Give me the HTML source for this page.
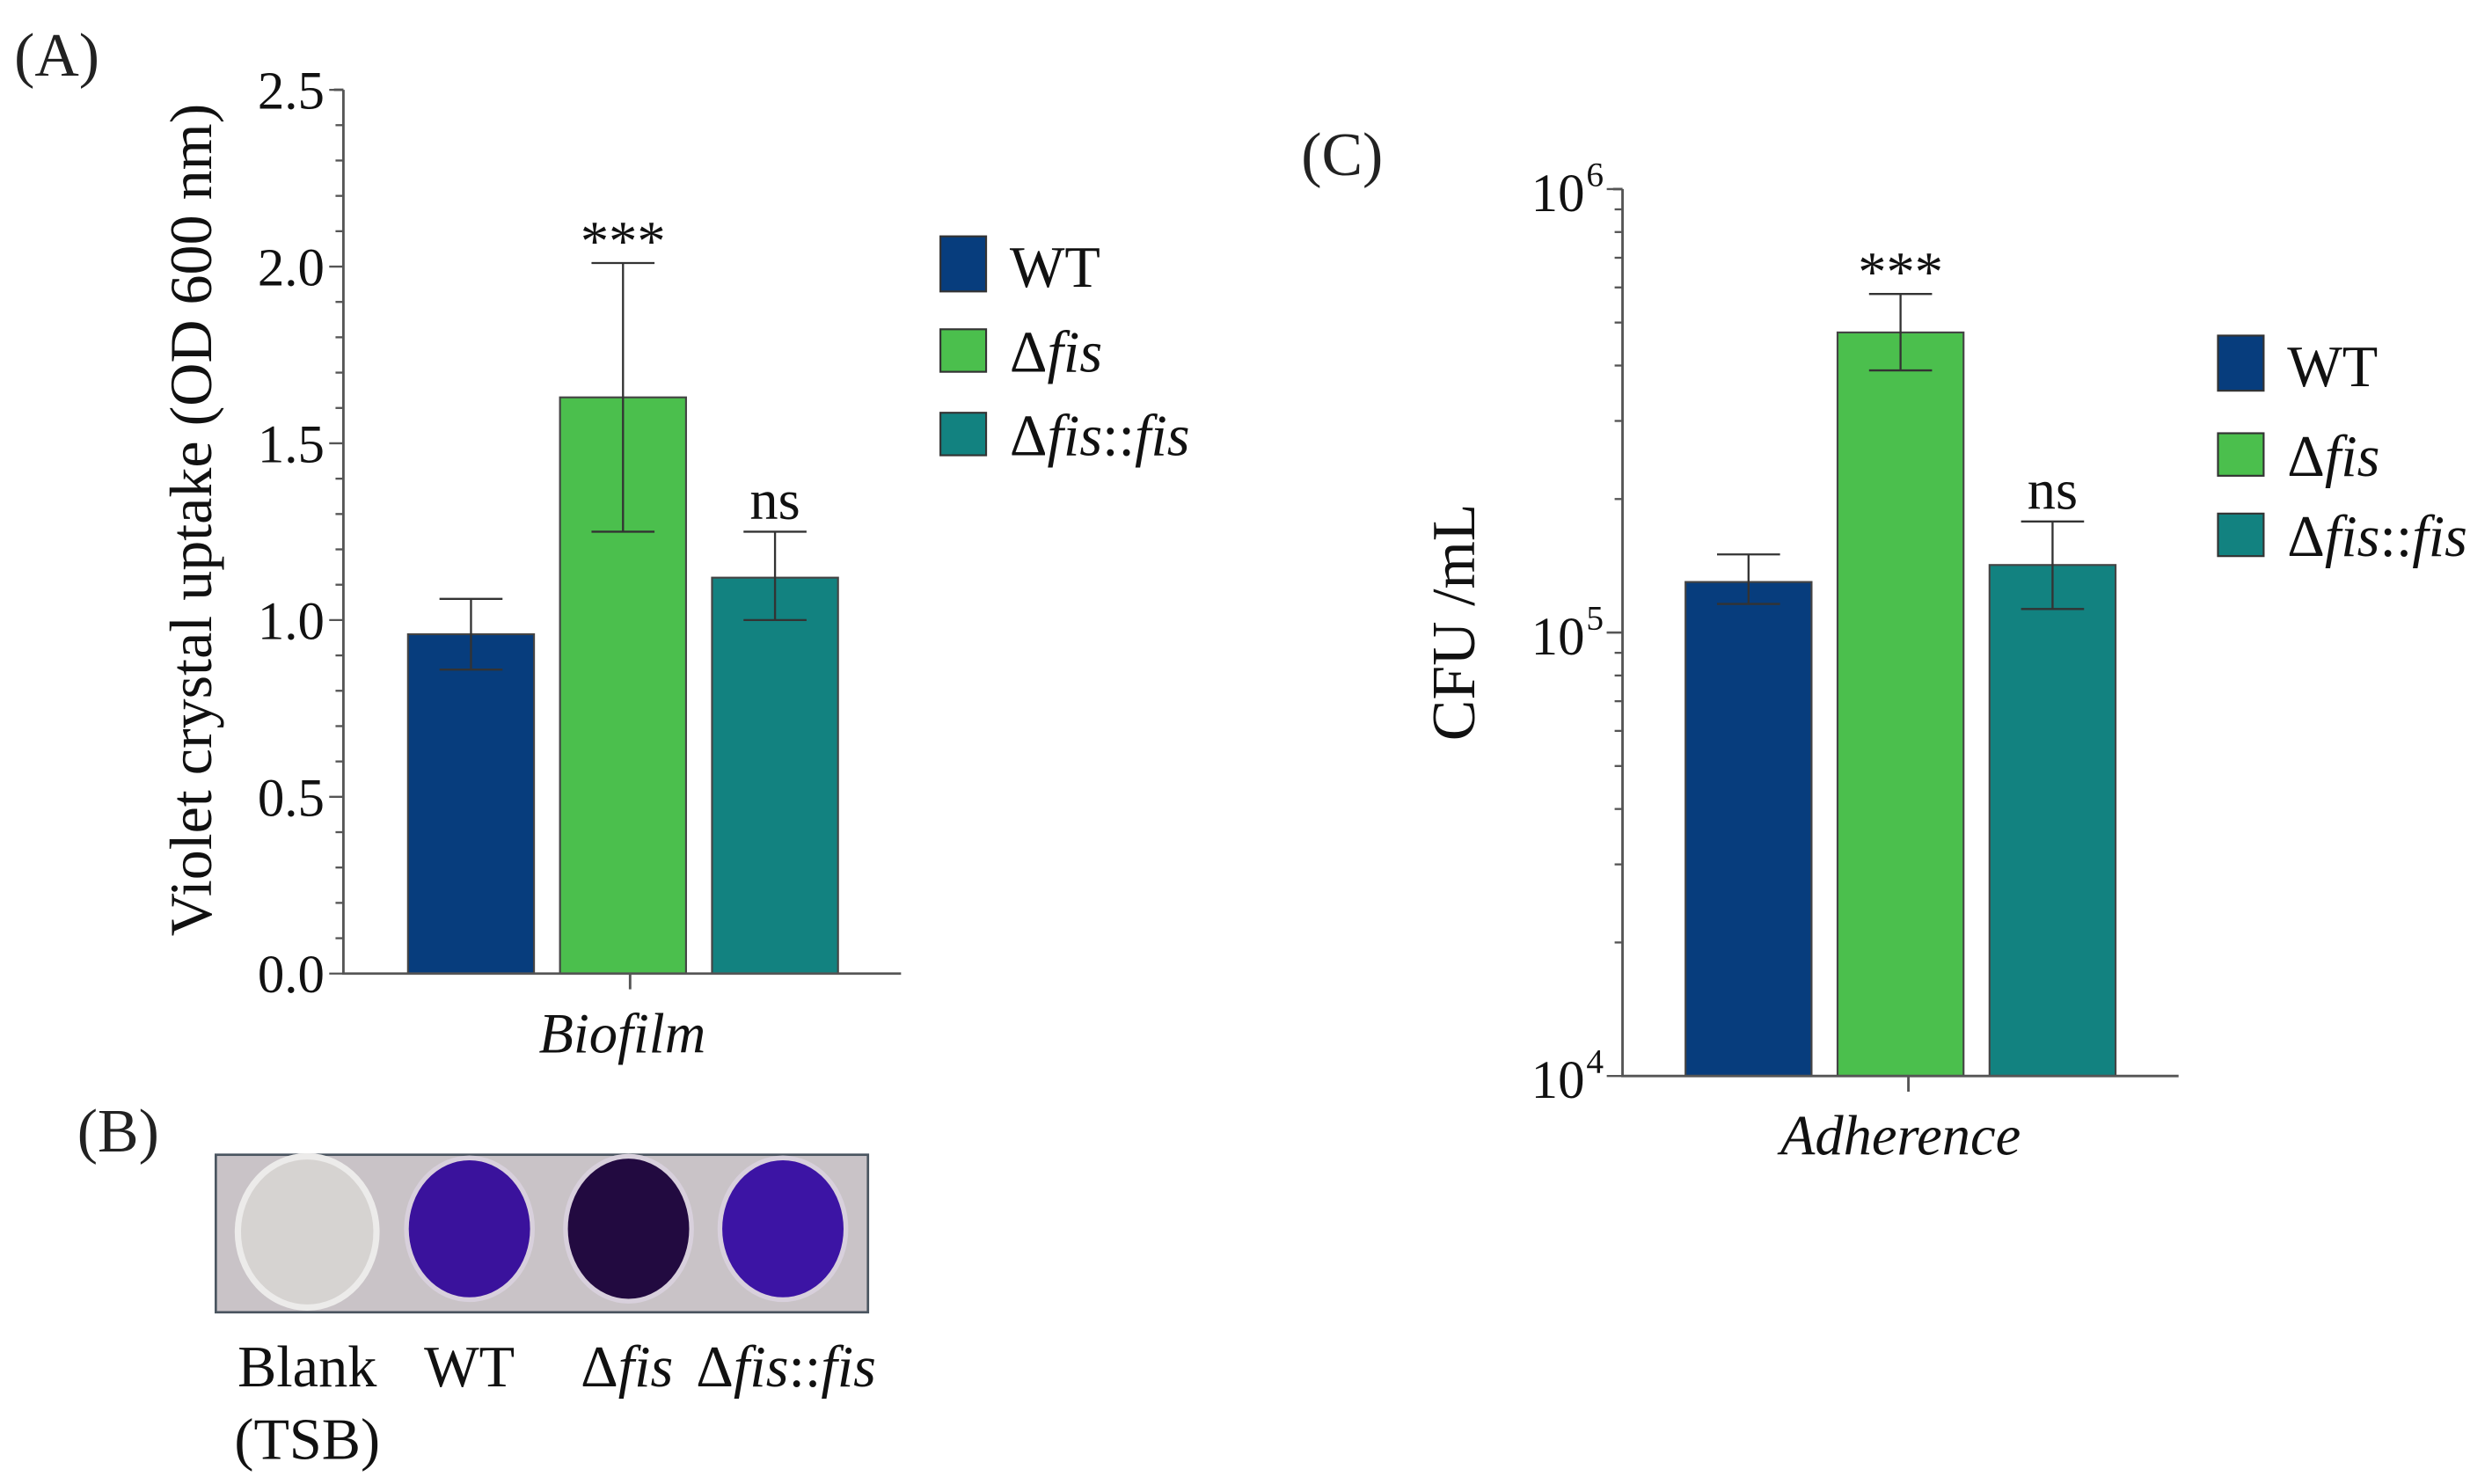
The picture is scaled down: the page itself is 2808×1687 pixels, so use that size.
<!DOCTYPE html>
<html><head><meta charset="utf-8"><style>
html,body{margin:0;padding:0;background:#fff;}
svg{display:block;font-family:"Liberation Serif",serif;}
</style></head><body>
<svg id="fig" width="2808" height="1687" viewBox="0 0 1568 942" xmlns="http://www.w3.org/2000/svg">
<text x="9" y="48" font-size="39" fill="#222">(A)</text>
<text x="826" y="111" font-size="39" fill="#222">(C)</text>
<text x="49" y="731" font-size="39" fill="#222">(B)</text>
<g id="chartA"></g>
<g id="chartC"></g>
<g id="plate">
  <rect x="137" y="733" width="414" height="100" fill="#c9c3c7" stroke="#4a5560" stroke-width="1.5"/>
  <ellipse cx="195" cy="782" rx="44" ry="48" fill="#d6d3d1" stroke="#ecebea" stroke-width="4"/>
  <ellipse cx="298" cy="780" rx="40" ry="45" fill="#3a129c" stroke="#d8d0dc" stroke-width="3"/>
  <ellipse cx="399" cy="780" rx="40" ry="46" fill="#220a40" stroke="#d8d0dc" stroke-width="3"/>
  <ellipse cx="497" cy="780" rx="40" ry="45" fill="#3c14a4" stroke="#d8d0dc" stroke-width="3"/>
  <text x="195" y="880" font-size="37" text-anchor="middle" fill="#111">Blank</text>
  <text x="195" y="926" font-size="37" text-anchor="middle" fill="#111">(TSB)</text>
  <text x="298" y="880" font-size="37" text-anchor="middle" fill="#111">WT</text>
  <text x="398" y="880" font-size="37" text-anchor="middle" fill="#111">Δ<tspan font-style="italic">fis</tspan></text>
  <text x="499" y="880" font-size="37" text-anchor="middle" fill="#111">Δ<tspan font-style="italic">fis</tspan>::<tspan font-style="italic">fis</tspan></text>
</g>
</svg>
<script>
const groups = ["WT", "Δfis", "Δfis::fis"];
const colors = ["#073d7d", "#4bbf4d", "#128280"];
const biofilmMeans = [0.96, 1.63, 1.12];
const biofilmLow = [0.86, 1.25, 1.00];
const biofilmHigh = [1.06, 2.01, 1.25];
const biofilmSig = ["", "***", "ns"];
const biofilmTicks = ["0.0", "0.5", "1.0", "1.5", "2.0", "2.5"];
const adhMeans = [1.3e5, 4.75e5, 1.42e5];
const adhLow = [1.16e5, 3.9e5, 1.13e5];
const adhHigh = [1.5e5, 5.8e5, 1.78e5];
const adhSig = ["", "***", "ns"];
const adhTickExps = [4, 5, 6];

const NS = "http://www.w3.org/2000/svg";
function mk(parent, tag, attrs, text){
  const e = document.createElementNS(NS, tag);
  for (const k in attrs) e.setAttribute(k, attrs[k]);
  if (text !== undefined) e.textContent = text;
  parent.appendChild(e);
  return e;
}
function groupLabel(parent, x, y, size, g){
  const t = mk(parent, "text", {x:x, y:y, "font-size":size, fill:"#111"});
  if (g === "WT") { t.textContent = "WT"; return t; }
  mk(t, "tspan", {}, "Δ");
  mk(t, "tspan", {"font-style":"italic"}, "fis");
  if (g === "Δfis::fis") { mk(t, "tspan", {}, "::"); mk(t, "tspan", {"font-style":"italic"}, "fis"); }
  return t;
}

function drawChart(gid, cfg){
  const g = document.getElementById(gid);
  const ax = "#555";
  for (let i = 0; i < groups.length; i++){
    const x0 = cfg.barX0 + i*cfg.barStep;
    const yt = cfg.y(cfg.means[i]);
    const r = mk(g, "rect", {x:x0, y:yt, width:cfg.barW, height:cfg.y0 - yt, fill:colors[i], stroke:"#444", "stroke-width":1.2});
    
    
    const cx = x0 + cfg.barW/2, yl = cfg.y(cfg.low[i]), yh = cfg.y(cfg.high[i]);
    const eb = mk(g, "path", {d:`M${cx},${yl}V${yh}M${cx-20},${yh}H${cx+20}M${cx-20},${yl}H${cx+20}`, stroke:"#333", "stroke-width":1.3, fill:"none"});
    
    
    if (cfg.sig[i]){
      const s = mk(g, "text", {x:cx, y:yh - (cfg.sig[i]==="ns"?8:2), "font-size":cfg.sig[i]==="ns"?36:36, "text-anchor":"middle", fill:"#111"}, cfg.sig[i]);
      
      
    }
  }
  const axes = mk(g, "path", {d:`M${cfg.x0},${cfg.yTop}V${cfg.y0}H${cfg.xEnd}M${cfg.x0-6},${cfg.yTop}H${cfg.x0}M${(cfg.x0+cfg.xEnd)/2+5},${cfg.y0}v10`, stroke:ax, "stroke-width":1.6, fill:"none"});
  
  
  cfg.ticks(g, ax);
  const yt = mk(g, "text", {transform:`translate(${cfg.titleX},${cfg.titleY}) rotate(-90)`, "font-size":cfg.titleSize, "text-anchor":"middle", fill:"#111"}, cfg.title);
  
  
  const xl = mk(g, "text", {x:(cfg.x0+cfg.xEnd)/2, y:cfg.y0+50, "font-size":36, "font-style":"italic", "text-anchor":"middle", fill:"#111"}, cfg.xlabel);
  
  
  for (let i = 0; i < groups.length; i++){
    const ly = cfg.legY[i];
    const sw = mk(g, "rect", {x:cfg.legX, y:ly, width:29, height:i===0?35:27, fill:colors[i], stroke:"#333", "stroke-width":1.2});
    
    
    const t = groupLabel(g, cfg.legX + 44, ly + (i===0?32:27), 37, groups[i]);
    
    
  }
}

const A = {x0:218, xEnd:572, y0:618, yTop:57, vmax:2.5};
A.y = v => A.y0 - v / A.vmax * (A.y0 - A.yTop);
drawChart("chartA", {
  ...A, barX0:259, barStep:96.5, barW:80, means:biofilmMeans, low:biofilmLow, high:biofilmHigh, sig:biofilmSig,
  title:"Violet crystal uptake (OD 600 nm)", titleX:134, titleY:330, titleSize:38, xlabel:"Biofilm",
  legX:597, legY:[150, 209, 262],
  ticks:(g, ax) => {
    for (let k = 0; k <= 25; k++){
      const v = k/10, y = A.y(v);
      const tk = mk(g, "line", {x1:A.x0 - (k%5===0?9:5), x2:A.x0, y1:y, y2:y, stroke:ax, "stroke-width":1.3});
      
      
    }
    biofilmTicks.forEach(s => {
      const t = mk(g, "text", {x:A.x0 - 12, y:A.y(parseFloat(s)) + 12, "font-size":34, "text-anchor":"end", fill:"#111"}, s);
      
      
    });
  }
});

const C = {x0:1030, xEnd:1383, y0:683, yTop:120};
C.y = v => C.y0 - (Math.log10(v) - 4) / 2 * (C.y0 - C.yTop);
drawChart("chartC", {
  ...C, barX0:1070, barStep:96.5, barW:80, means:adhMeans, low:adhLow, high:adhHigh, sig:adhSig,
  title:"CFU /mL", titleX:936, titleY:395, titleSize:39, xlabel:"Adherence",
  legX:1408, legY:[213, 275, 326],
  ticks:(g, ax) => {
    for (let e = 4; e < 6; e++){
      for (let m = 1; m <= 10; m++){
        const y = C.y(m * Math.pow(10, e));
        const major = (m === 1 || m === 10);
        const tk = mk(g, "line", {x1:C.x0 - (major?10:5), x2:C.x0, y1:y, y2:y, stroke:ax, "stroke-width":1.3});
        
        
      }
    }
    adhTickExps.forEach(ex => {
      const y = C.y(Math.pow(10, ex));
      const t = mk(g, "text", {x:C.x0 - 24, y:y + 14, "font-size":34, "text-anchor":"end", fill:"#111"}, "10");
      
      
      const s = mk(g, "text", {x:C.x0 - 23, y:y - 2, "font-size":22, fill:"#111"}, String(ex));
      
      
    });
  }
});
</script>
</body></html>
